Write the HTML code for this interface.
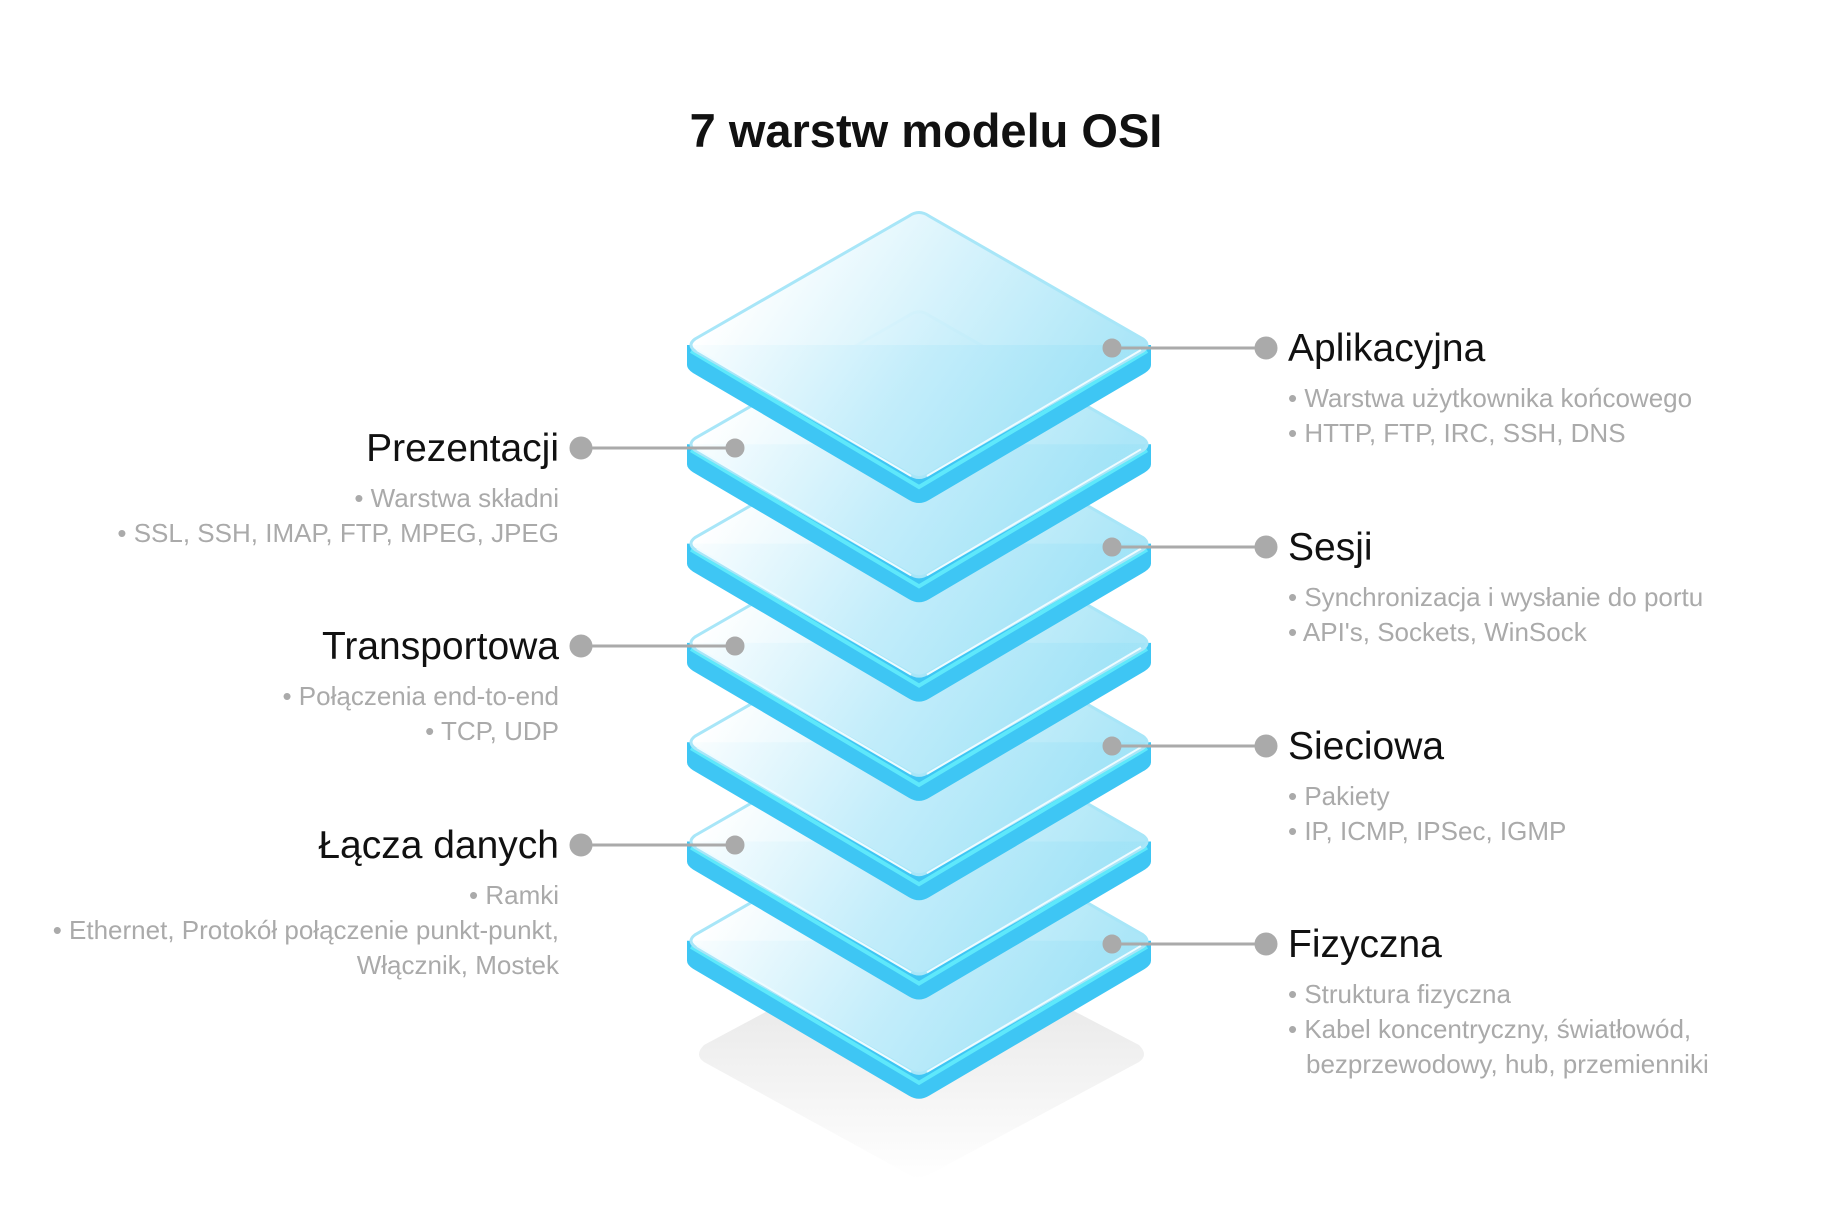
<!DOCTYPE html>
<html><head><meta charset="utf-8"><style>
html,body{margin:0;padding:0;background:#fff;}
svg{display:block;}
text{font-family:"Liberation Sans",sans-serif;}
.h{font-size:39px;fill:#111;}
.s{font-size:26px;fill:#aaaaaa;}
</style></head><body>
<svg width="1837" height="1232" viewBox="0 0 1837 1232" xmlns="http://www.w3.org/2000/svg">
<defs>
<linearGradient id="top" gradientUnits="userSpaceOnUse" x1="770" y1="-100" x2="1060" y2="100">
<stop offset="0" stop-color="#ffffff" stop-opacity="0.97"/>
<stop offset="0.55" stop-color="#cdf0fb" stop-opacity="0.93"/>
<stop offset="1" stop-color="#a8e5f7" stop-opacity="0.95"/>
</linearGradient>
<linearGradient id="sh" x1="0" y1="0" x2="0" y2="1">
<stop offset="0" stop-color="#dcdcdc"/>
<stop offset="1" stop-color="#ffffff"/>
</linearGradient>
<g id="L">
<path d="M693 0 L693 20 Q693 24 699 28 L915 155 Q925 161 935 155 L1151 28 Q1157 24 1157 20 L1157 0 Z" fill="#3ec6f4"/>
<path d="M697 6 L925 142 L1153 6" fill="none" stroke="#5ee8fb" stroke-width="4"/>
<path d="M701 -6 L915 -129 Q925 -136 935 -129 L1149 -6 Q1157 0 1149 6 L935 129 Q925 136 915 129 L701 6 Q693 0 701 -6 Z" fill="url(#top)" stroke="#a8e6f8" stroke-width="3"/>
<path d="M703 5 L917 131 M933 131 L1147 5" stroke="#eefbff" stroke-width="2" fill="none"/>
</g>
</defs>
<text x="926" y="147" text-anchor="middle" font-size="47" font-weight="bold" fill="#111">7 warstw modelu OSI</text>

<g transform="translate(-6,0)">
<path d="M925 930 L1145 1045 Q1155 1055 1145 1062 L925 1180 L710 1062 Q700 1055 710 1045 Z" fill="url(#sh)" opacity="0.85"/>

<use href="#L" transform="translate(0,940.8)"/>
<use href="#L" transform="translate(0,841.5)"/>
<use href="#L" transform="translate(0,742.2)"/>
<use href="#L" transform="translate(0,642.9)"/>
<use href="#L" transform="translate(0,543.6)"/>
<use href="#L" transform="translate(0,444.3)"/>
<use href="#L" transform="translate(0,345)"/>

<g fill="#aaaaaa" stroke="#aaaaaa" stroke-width="3">
<line x1="587" y1="448" x2="741" y2="448"/><circle cx="741" cy="448" r="8"/><circle cx="587" cy="448" r="10"/>
<line x1="587" y1="646" x2="741" y2="646"/><circle cx="741" cy="646" r="8"/><circle cx="587" cy="646" r="10"/>
<line x1="587" y1="845" x2="741" y2="845"/><circle cx="741" cy="845" r="8"/><circle cx="587" cy="845" r="10"/>
</g>
<g text-anchor="end">
<text class="h" x="565" y="461">Prezentacji</text>
<text class="s" x="565" y="507">• Warstwa składni</text>
<text class="s" x="565" y="542">• SSL, SSH, IMAP, FTP, MPEG, JPEG</text>

<text class="h" x="565" y="659">Transportowa</text>
<text class="s" x="565" y="705">• Połączenia end-to-end</text>
<text class="s" x="565" y="740">• TCP, UDP</text>

<text class="h" x="565" y="858">Łącza danych</text>
<text class="s" x="565" y="904">• Ramki</text>
<text class="s" x="565" y="939">• Ethernet, Protokół połączenie punkt-punkt,</text>
<text class="s" x="565" y="974">Włącznik, Mostek</text>
</g>
</g>

<g transform="translate(-12,0)">
<g fill="#aaaaaa" stroke="#aaaaaa" stroke-width="3">
<line x1="1124" y1="348" x2="1278" y2="348"/><circle cx="1124" cy="348" r="8"/><circle cx="1278" cy="348" r="10"/>
<line x1="1124" y1="547" x2="1278" y2="547"/><circle cx="1124" cy="547" r="8"/><circle cx="1278" cy="547" r="10"/>
<line x1="1124" y1="746" x2="1278" y2="746"/><circle cx="1124" cy="746" r="8"/><circle cx="1278" cy="746" r="10"/>
<line x1="1124" y1="944" x2="1278" y2="944"/><circle cx="1124" cy="944" r="8"/><circle cx="1278" cy="944" r="10"/>
</g>
<text class="h" x="1300" y="361">Aplikacyjna</text>
<text class="s" x="1300" y="407">• Warstwa użytkownika końcowego</text>
<text class="s" x="1300" y="442">• HTTP, FTP, IRC, SSH, DNS</text>

<text class="h" x="1300" y="560">Sesji</text>
<text class="s" x="1300" y="606">• Synchronizacja i wysłanie do portu</text>
<text class="s" x="1300" y="641">• API's, Sockets, WinSock</text>

<text class="h" x="1300" y="759">Sieciowa</text>
<text class="s" x="1300" y="805">• Pakiety</text>
<text class="s" x="1300" y="840">• IP, ICMP, IPSec, IGMP</text>

<text class="h" x="1300" y="957">Fizyczna</text>
<text class="s" x="1300" y="1003">• Struktura fizyczna</text>
<text class="s" x="1300" y="1038">• Kabel koncentryczny, światłowód,</text>
<text class="s" x="1318" y="1073">bezprzewodowy, hub, przemienniki</text>
</g>
</svg>
</body></html>
